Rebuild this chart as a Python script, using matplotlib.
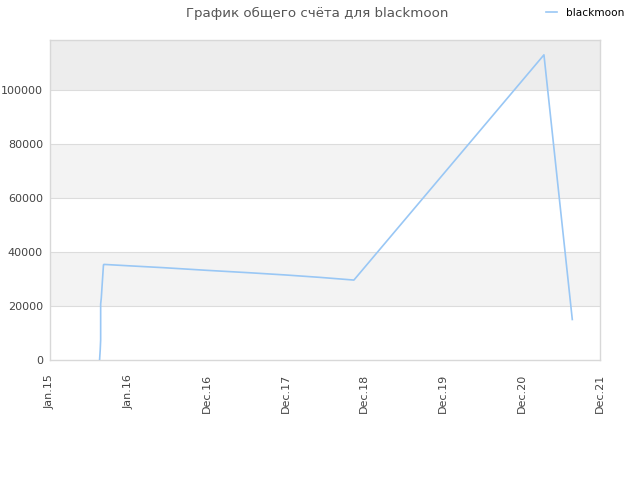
import matplotlib
matplotlib.use("Agg")
import matplotlib.pyplot as plt
import matplotlib.dates as mdates
import numpy as np
import datetime as dt

# Data
dates = ["2015-08-18", "2015-08-21", "2015-08-21", "2015-08-23", "2015-08-23", "2015-08-26",
         "2015-08-29", "2015-09-05", "2015-09-07", "2015-12-27", "2016-06-06", "2016-12-27",
         "2017-07-13", "2017-12-22", "2018-06-01", "2018-11-05", "2021-04-01", "2021-08-10"]
scores = [0, 3700, 3700, 7400, 20700, 23000, 26700, 35200, 35400, 34900, 34200, 33200,
          32300, 31500, 30600, 29600, 113000, 15000]
tick_labels = ["Jan.15", "Jan.16", "Dec.16", "Dec.17", "Dec.18", "Dec.19", "Dec.20", "Dec.21"]
y_ticks = [0, 20000, 40000, 60000, 80000, 100000]
series_name = "blackmoon"
title = "График общего счёта для blackmoon"

x = [dt.datetime.strptime(d, "%Y-%m-%d") for d in dates]
xmin = dt.datetime(2015, 1, 1)
xmax = xmin + dt.timedelta(days=2541)
ymax = 118500

fig = plt.figure(figsize=(6.4, 4.8), dpi=100)
ax = fig.add_axes([50/640, 120/480, 550/640, 320/480])

# alternating bands
bands = [(20000, 40000, "#f3f3f3"), (60000, 80000, "#f3f3f3"), (100000, ymax, "#ededed")]
for lo, hi, c in bands:
    ax.axhspan(lo, hi, color=c, zorder=0, lw=0)
for yv in y_ticks[1:]:
    ax.axhline(yv, color="#dcdcdc", lw=0.8, zorder=1)

ax.plot(x, scores, color="#99c7f5", lw=1.2, zorder=3, label=series_name)

ax.set_xlim(xmin, xmax)
ax.set_ylim(0, ymax)
xt = [mdates.num2date(v) for v in np.linspace(mdates.date2num(xmin), mdates.date2num(xmax), len(tick_labels))]
ax.set_xticks(xt)
ax.set_xticklabels(tick_labels, rotation=90, fontsize=8, color="#444444")
ax.set_yticks(y_ticks)
ax.set_yticklabels([str(v) for v in y_ticks], fontsize=8, color="#444444")
ax.tick_params(axis="y", length=0, pad=5)
ax.tick_params(axis="x", length=0, pad=10)
for s in ax.spines.values():
    s.set_color("#d8d8d8")
    s.set_linewidth(1)

fig.text(0.495, 0.972, title, ha="center", va="center", fontsize=9.6, color="#555555")
leg = fig.legend(loc="center right", bbox_to_anchor=(0.982, 0.973), frameon=False,
                 fontsize=7.6, handlelength=1.1, handletextpad=0.8, borderaxespad=0)

fig.savefig("out.png", dpi=100)
